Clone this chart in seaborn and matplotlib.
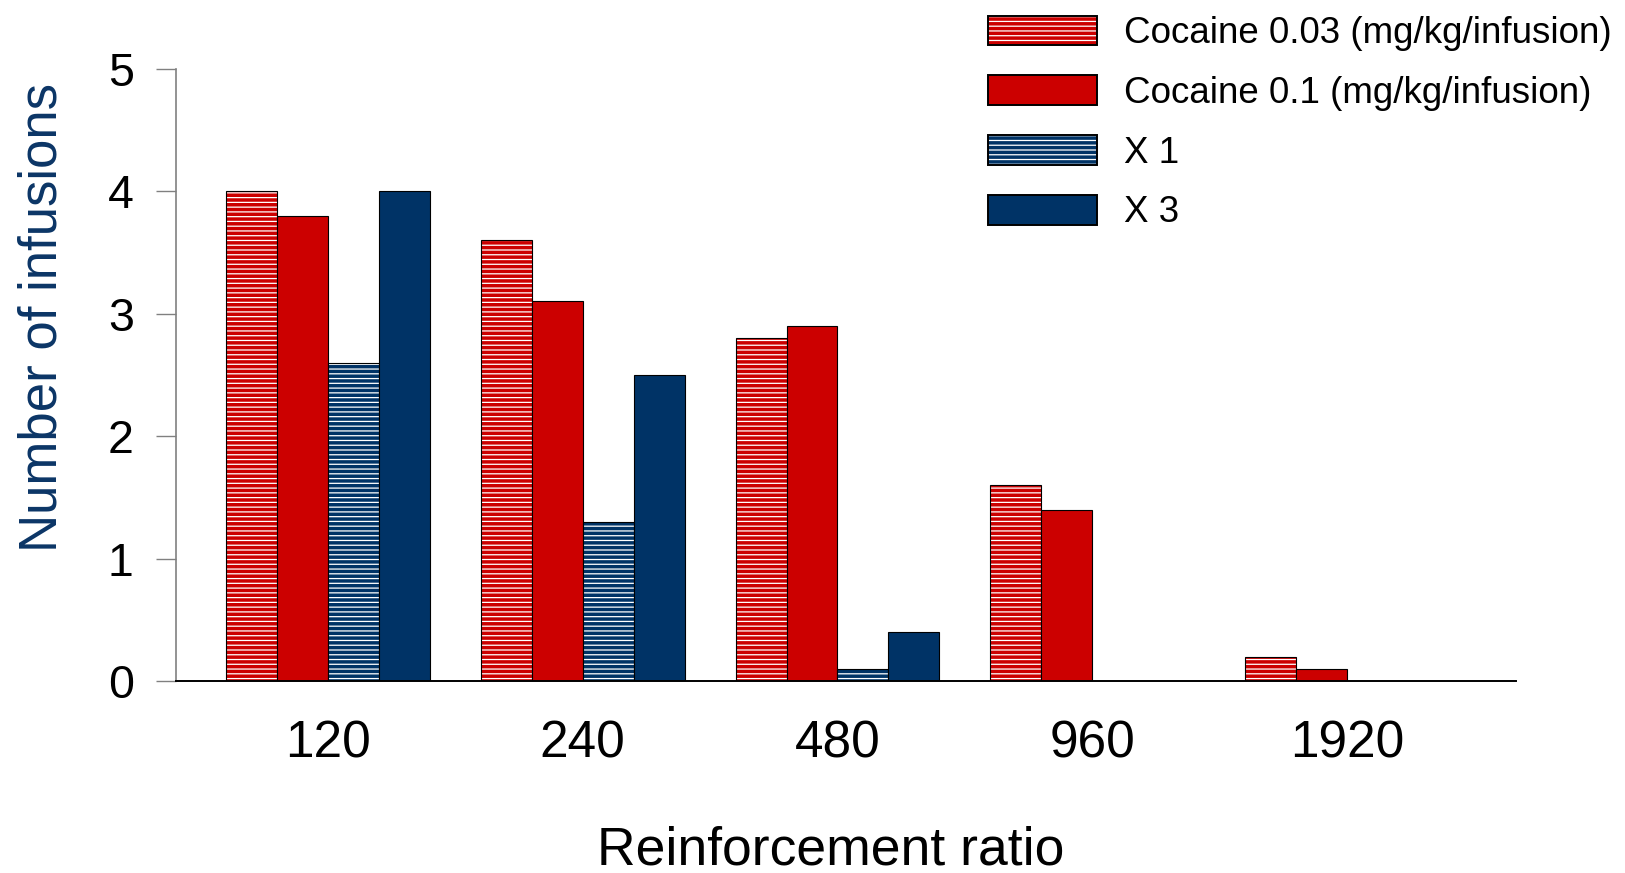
import matplotlib
matplotlib.use("Agg")
import matplotlib.pyplot as plt
import matplotlib.patches as mpatches
import matplotlib.colors as mcolors
import numpy as np
import pandas as pd
import seaborn as sns

# Self-administration data: mean infusions per session at each ratio
ratios = ["120", "240", "480", "960", "1920"]
groups = [
    "Cocaine 0.03 (mg/kg/infusion)",
    "Cocaine 0.1 (mg/kg/infusion)",
    "X 1",
    "X 3",
]
cocaine_003 = [4.0, 3.6, 2.8, 1.6, 0.2]
cocaine_01 = [3.8, 3.1, 2.9, 1.4, 0.1]
x_1 = [2.6, 1.3, 0.1, 0.0, 0.0]
x_3 = [4.0, 2.5, 0.4, 0.0, 0.0]

RED = "#CC0000"
NAVY = "#003366"
palette = [RED, RED, NAVY, NAVY]
hatched = [True, False, True, False]

df = pd.DataFrame({
    "ratio": ratios * 4,
    "group": [g for g in groups for _ in ratios],
    "infusions": cocaine_003 + cocaine_01 + x_1 + x_3,
})

# Rendered at 200 dpi so the hatch spacing comes out fine-grained
DPI = 200
sns.set_style("white")
plt.rcParams["font.family"] = ["Liberation Sans", "DejaVu Sans"]
plt.rcParams["hatch.linewidth"] = 0.45
plt.rcParams["text.color"] = "black"

fig = plt.figure(figsize=(1625 / DPI, 873 / DPI), dpi=DPI)
ax = fig.add_axes([0.1083, 0.2199, 0.8246, 0.7016])

sns.barplot(
    data=df, x="ratio", y="infusions", hue="group",
    order=ratios, hue_order=groups, palette=palette,
    width=0.8, gap=0, errorbar=None, saturation=1,
    edgecolor="black", linewidth=0.4, legend=False, ax=ax,
)


def apply_hatch(patch):
    patch.set_hatch("-------")
    if hasattr(patch, "set_hatchcolor"):
        patch.set_hatchcolor("white")
    else:
        patch._hatch_color = mcolors.to_rgba("white")


for container, h in zip(ax.containers, hatched):
    if h:
        for bar in container:
            apply_hatch(bar)

ax.set_xlim(-0.597, 4.664)
ax.set_ylim(0, 5)
ax.set_yticks([0, 1, 2, 3, 4, 5])
ax.set_xlabel("")
ax.set_ylabel("")

for s in ["top", "right"]:
    ax.spines[s].set_visible(False)
ax.spines["left"].set_color("#808080")
ax.spines["left"].set_linewidth(0.6)
ax.spines["bottom"].set_color("black")
ax.spines["bottom"].set_linewidth(0.7)

ax.tick_params(axis="y", direction="out", length=7.25, width=0.5,
               color="#808080", pad=8, labelsize=16.75, left=True,
               labelcolor="black")
ax.tick_params(axis="x", length=0, pad=13.8, labelsize=18.5,
               labelcolor="black")

fig.text(0.0264, 0.636, "Number of infusions", rotation=90,
         ha="center", va="center", fontsize=19, color="#0B3566")
fig.text(0.511, 0.0092, "Reinforcement ratio", ha="center",
         va="baseline", fontsize=19.25, color="black")

# Legend handles mirror the bar styling
handles = []
for g, c, h in zip(groups, palette, hatched):
    p = mpatches.Patch(facecolor=c, edgecolor="black", linewidth=0.7, label=g)
    if h:
        apply_hatch(p)
    handles.append(p)

leg = fig.legend(
    handles=handles, loc="upper left",
    bbox_to_anchor=(987.7 / 1625, 1 - 15.5 / 873),
    frameon=False, fontsize=13.25, borderpad=0, borderaxespad=0,
    handlelength=2.96, handleheight=0.86, handletextpad=0.73,
    labelspacing=0.66,
)
for t in leg.get_texts():
    t.set_color("black")

fig.savefig("out.png", dpi=DPI)
